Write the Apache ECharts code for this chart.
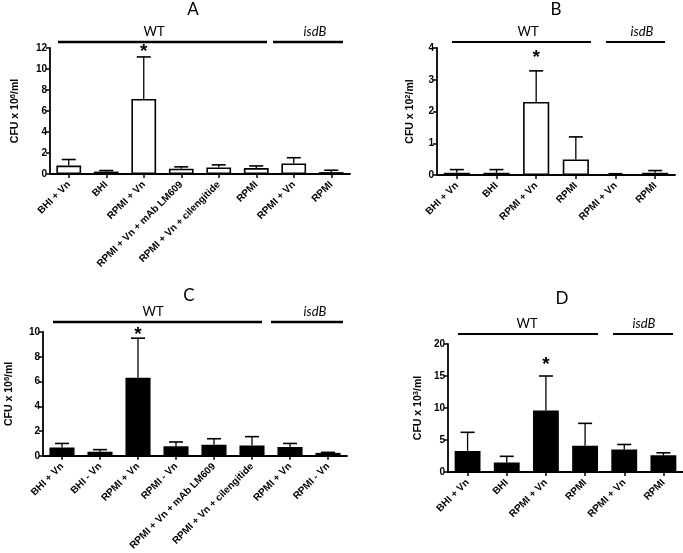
<!DOCTYPE html>
<html><head><meta charset="utf-8">
<script src="https://cdn.jsdelivr.net/npm/echarts@6/dist/echarts.min.js"></script>
<style>html,body{margin:0;padding:0;background:#fff}#c{width:683px;height:553px}</style>
</head><body><div id="c"></div>
<script>
// ---- Panel A ----
const catsA = ['BHI + Vn','BHI','RPMI + Vn','RPMI + Vn + mAb LM609','RPMI + Vn + cilengitide','RPMI','RPMI + Vn','RPMI'];
const meanA = [0.8, 0.23, 7.15, 0.5, 0.62, 0.56, 1.0, 0.18];
const errA  = [1.38, 0.33, 11.15, 0.68, 0.87, 0.77, 1.55, 0.36];
const starA = [2, 11.85];
const ticksA = {min:0, max:12, interval:2};
// ---- Panel B ----
const catsB = ['BHI + Vn','BHI','RPMI + Vn','RPMI','RPMI + Vn','RPMI'];
const meanB = [0.07, 0.07, 2.3, 0.49, 0.02, 0.07];
const errB  = [0.17, 0.17, 3.28, 1.2, 0.04, 0.14];
const starB = [2, 3.75];
const ticksB = {min:0, max:4, interval:1};
// ---- Panel C ----
const catsC = ['BHI + Vn','BHI - Vn','RPMI + Vn','RPMI - Vn','RPMI + Vn + mAb LM609','RPMI + Vn + cilengitide','RPMI + Vn','RPMI - Vn'];
const meanC = [0.68, 0.33, 6.3, 0.77, 0.9, 0.84, 0.72, 0.24];
const errC  = [1.0, 0.5, 9.5, 1.12, 1.38, 1.55, 1.0, 0.28];
const starC = [2, 9.95];
const ticksC = {min:0, max:10, interval:2};
// ---- Panel D ----
const catsD = ['BHI + Vn','BHI','RPMI + Vn','RPMI','RPMI + Vn','RPMI'];
const meanD = [3.3, 1.5, 9.6, 4.1, 3.5, 2.6];
const errD  = [6.2, 2.45, 15.0, 7.6, 4.3, 3.0];
const starD = [2, 17.1];
const ticksD = {min:0, max:20, interval:5};
// Y-axis titles (exponent)
const expA = '6', expB = '2', expC = '6', expD = '3';

const FONT = 'Liberation Sans, Arial, sans-serif';
const TFONT = 'Lato, "Open Sans", sans-serif';

const panels = [
  {cats:catsA, mean:meanA, err:errA, star:starA, ticks:ticksA, exp:expA, fill:'#fff', grid:{left:50, top:48, width:300, height:126}, gap:28},
  {cats:catsB, mean:meanB, err:errB, star:starB, ticks:ticksB, exp:expB, fill:'#fff', grid:{left:437, top:48, width:238, height:127}, gap:20},
  {cats:catsC, mean:meanC, err:errC, star:starC, ticks:ticksC, exp:expC, fill:'#000', grid:{left:43, top:332, width:304, height:126}, gap:27},
  {cats:catsD, mean:meanD, err:errD, star:starD, ticks:ticksD, exp:expD, fill:'#000', grid:{left:448, top:344, width:235, height:128}, gap:23}
];

const grids = [], xAxes = [], yAxes = [], series = [];
panels.forEach((p, i) => {
  grids.push(Object.assign({containLabel:false}, p.grid));
  xAxes.push({
    type:'category', gridIndex:i, data:p.cats,
    axisLine:{lineStyle:{color:'#000', width:1.8}},
    axisTick:{show:true, alignWithLabel:true, length:4, lineStyle:{color:'#000', width:1.5}},
    axisLabel:{interval:0, rotate:45, margin:9, color:'#000', fontWeight:'bold', fontSize:10, fontFamily:FONT},
    splitLine:{show:false}
  });
  yAxes.push({
    type:'value', gridIndex:i, min:p.ticks.min, max:p.ticks.max, interval:p.ticks.interval,
    name:'{t|CFU x 10}{s|' + p.exp + '}{t|/ml}', nameLocation:'middle', nameGap:p.gap, nameRotate:90,
    nameTextStyle:{rich:{t:{fontSize:10.5, fontWeight:'bold', fontFamily:FONT, color:'#000'}, s:{fontSize:7.5, fontWeight:'bold', fontFamily:FONT, color:'#000', verticalAlign:'top', padding:[0,0,5,0]}}},
    axisLine:{show:true, lineStyle:{color:'#000', width:1.8}},
    axisTick:{show:true, length:4, lineStyle:{color:'#000', width:1.5}},
    axisLabel:{color:'#000', fontWeight:'bold', fontSize:10, fontFamily:FONT, margin:3},
    splitLine:{show:false}
  });
  series.push({
    type:'bar', xAxisIndex:i, yAxisIndex:i, data:p.mean, barWidth:'66%',
    itemStyle:{color:p.fill, borderColor:'#000', borderWidth:1.6}, silent:true, animation:false
  });
  series.push({
    type:'custom', xAxisIndex:i, yAxisIndex:i, z:5, animation:false, silent:true,
    data:p.mean.map((m, k) => [k, m, p.err[k]]),
    renderItem:(params, api) => {
      const x = api.value(0), v = api.value(1), e = api.value(2);
      const p0 = api.coord([x, v]), p1 = api.coord([x, e]);
      const cap = 7;
      return {type:'group', children:[
        {type:'line', shape:{x1:p0[0], y1:p0[1], x2:p1[0], y2:p1[1]}, style:{stroke:'#000', lineWidth:1.3}},
        {type:'line', shape:{x1:p1[0]-cap, y1:p1[1], x2:p1[0]+cap, y2:p1[1]}, style:{stroke:'#000', lineWidth:1.6}}
      ]};
    }
  });
  series.push({
    type:'custom', xAxisIndex:i, yAxisIndex:i, z:6, animation:false, silent:true,
    data:[p.star],
    renderItem:(params, api) => {
      const pt = api.coord([api.value(0), api.value(1)]);
      return {type:'text', x:pt[0], y:pt[1] + 2, style:{text:'*', font:'bold 19px ' + FONT, align:'center', verticalAlign:'middle', fill:'#000'}};
    }
  });
});

function txt(t, x, y, size, italic) {
  return {type:'text', x:x, y:y, style:{text:t, font:(italic ? 'italic ' : '') + size + 'px ' + TFONT, align:'center', verticalAlign:'middle', fill:'#000'}};
}
function ln(x1, x2, y, w) {
  return {type:'line', shape:{x1:x1, y1:y, x2:x2, y2:y}, style:{stroke:'#000', lineWidth:w}};
}
const graphic = [
  txt('A', 193, 10, 17), txt('WT', 154, 32, 13), txt('isdB', 315, 32, 13, true), ln(58, 267, 42, 2.6), ln(273, 343, 42, 2.6),
  txt('B', 556, 10, 17), txt('WT', 528, 32, 13), txt('isdB', 642, 32, 13, true), ln(452, 591, 42, 2.2), ln(606, 665, 42, 2.2),
  txt('C', 189, 296, 17), txt('WT', 153, 312, 13), txt('isdB', 315, 312, 13, true), ln(53, 262, 322, 2.6), ln(271, 343, 322, 2.6),
  txt('D', 562, 299, 17), txt('WT', 527, 324, 13), txt('isdB', 644, 324, 13, true), ln(458, 598, 334, 1.8), ln(613, 673, 334, 1.8)
];

const chart = echarts.init(document.getElementById('c'), null, {renderer:'canvas'});
chart.setOption({animation:false, backgroundColor:'#fff', grid:grids, xAxis:xAxes, yAxis:yAxes, series:series, graphic:graphic});
</script></body></html>
